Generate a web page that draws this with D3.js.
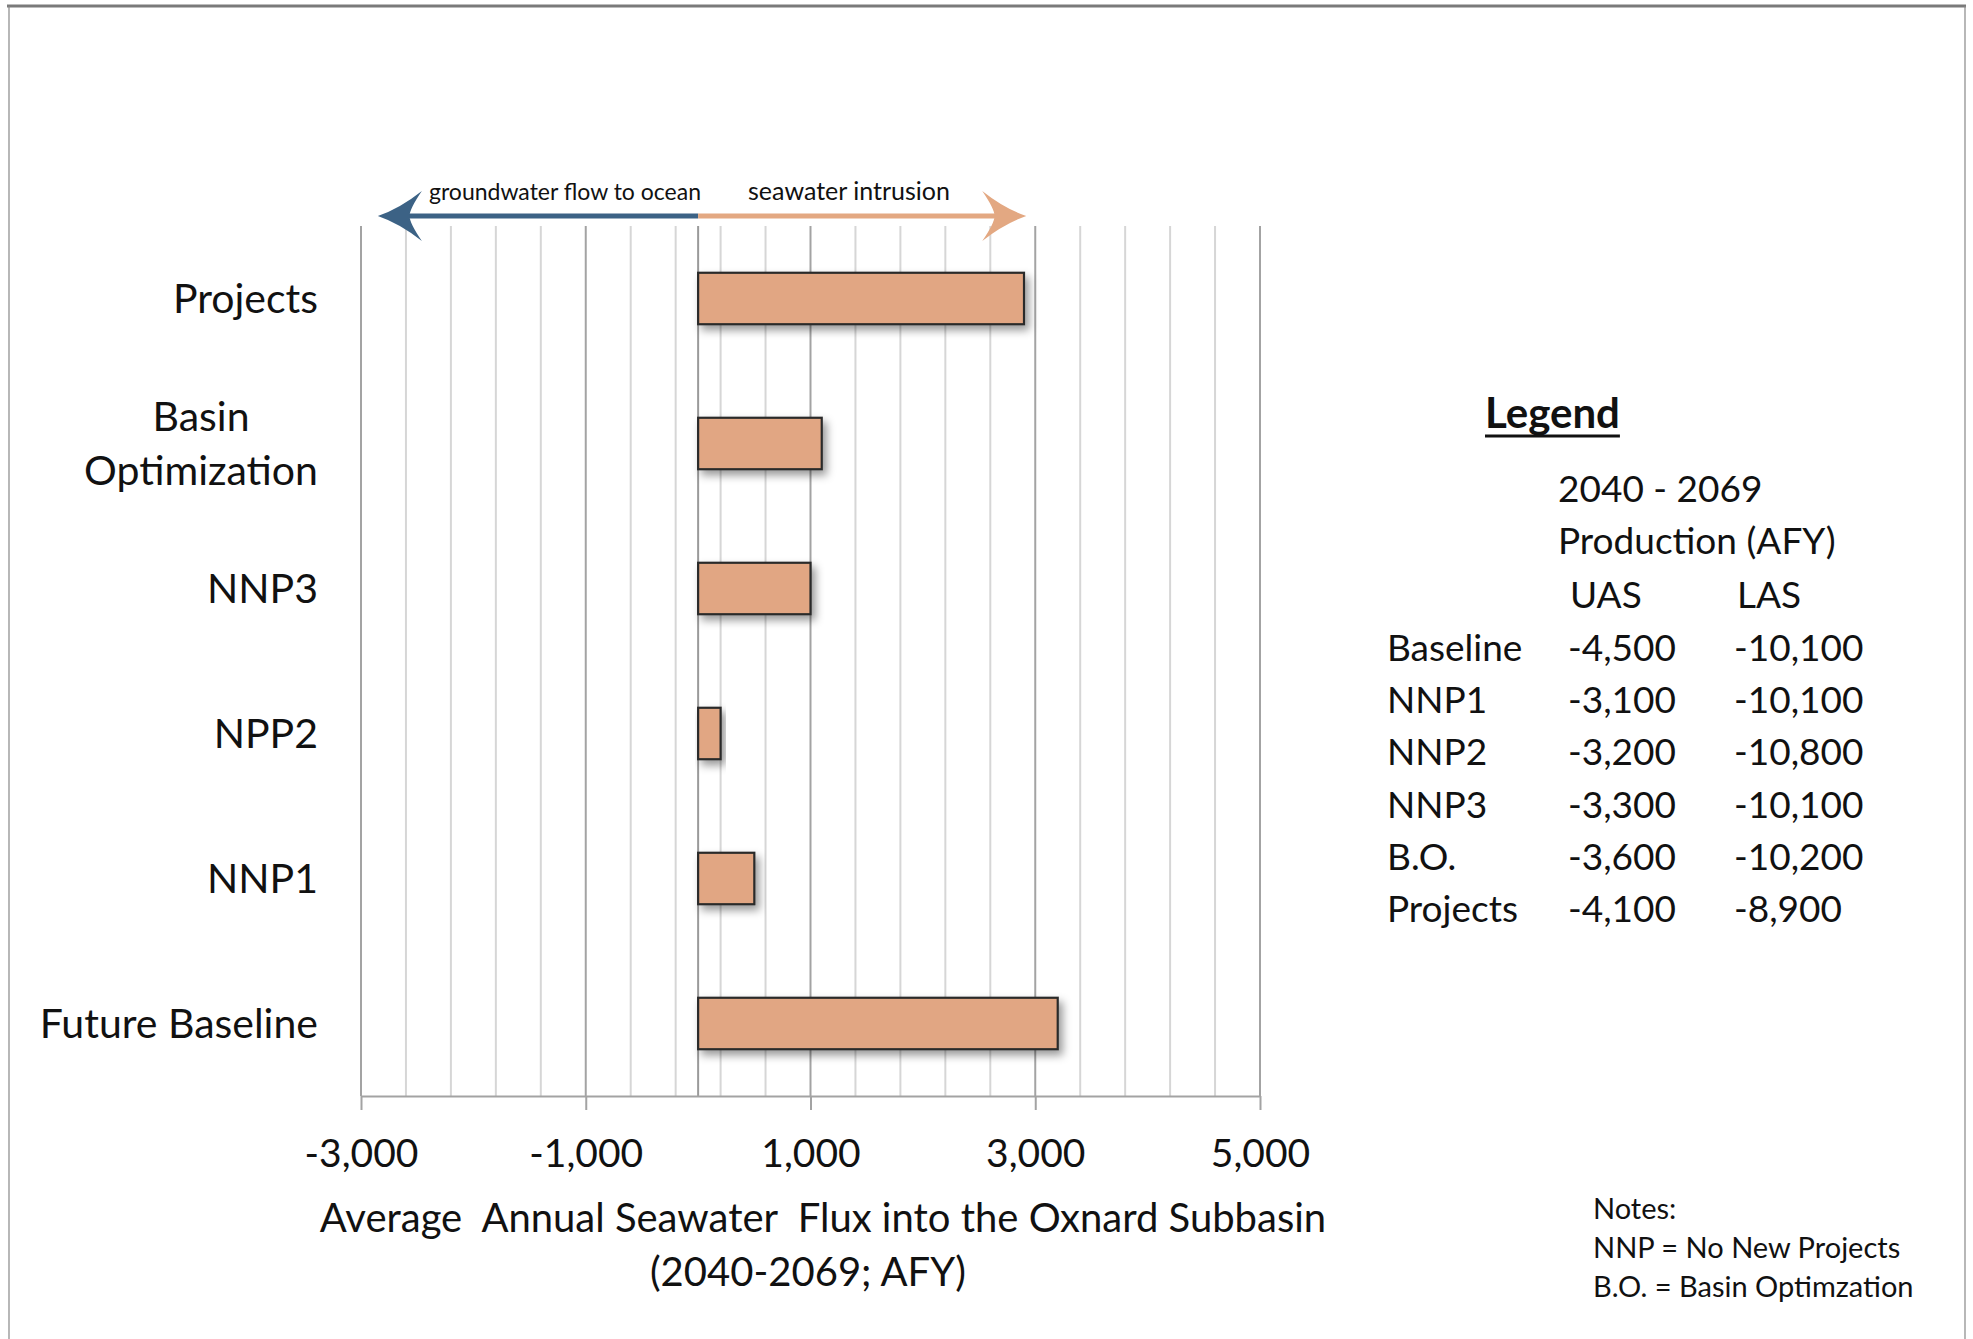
<!DOCTYPE html>
<html>
<head>
<meta charset="utf-8">
<script src="https://cdn.jsdelivr.net/npm/d3@7/dist/d3.min.js"></script>
<style>
  html, body { margin: 0; padding: 0; background: #fff; }
  svg { display: block; }
</style>
</head>
<body>
<script>
// ---------- data ----------
const categories = ["Projects", "Basin Optimization", "NNP3", "NPP2", "NNP1", "Future Baseline"];
const fluxValues = [2900, 1100, 1000, 200, 500, 3200];
const xTickValues = [-3000, -1000, 1000, 3000, 5000];
const xDomain = [-3000, 5000];

const legendRows = ["Baseline", "NNP1", "NNP2", "NNP3", "B.O.", "Projects"];
const uasValues = [-4500, -3100, -3200, -3300, -3600, -4100];
const lasValues = [-10100, -10100, -10800, -10100, -10200, -8900];
const notesLines = ["Notes:", "NNP = No New Projects", "B.O. = Basin Optimzation"];
const arrowLabels = ["groundwater flow to ocean", "seawater intrusion"];
const arrowExtent = [-2850, 2920];

// ---------- setup ----------
const W = 1973, H = 1339;
const svg = d3.select("body").append("svg").attr("width", W).attr("height", H);
svg.append("rect").attr("width", W).attr("height", H).attr("fill", "#fff");

const defs = svg.append("defs");
const f = defs.append("filter").attr("id", "shadow").attr("x", "-10%").attr("y", "-30%").attr("width", "130%").attr("height", "180%");
f.append("feDropShadow").attr("dx", 4).attr("dy", 5).attr("stdDeviation", 4)
  .attr("flood-color", "#000").attr("flood-opacity", 0.4);

const locale = d3.formatLocale({decimal: ".", thousands: ",", grouping: [3], currency: ["$", ""], minus: "-"});
const fmt = locale.format(",");

const FONT = "Lato, 'Open Sans', sans-serif";

// frame
svg.append("line").attr("x1", 7).attr("x2", 1966).attr("y1", 6).attr("y2", 6).attr("stroke", "#7a7a7a").attr("stroke-width", 3);
svg.append("line").attr("x1", 9).attr("x2", 9).attr("y1", 6).attr("y2", H).attr("stroke", "#888").attr("stroke-width", 1.2);
svg.append("line").attr("x1", 1965).attr("x2", 1965).attr("y1", 6).attr("y2", H).attr("stroke", "#888").attr("stroke-width", 1.2);

// scales
const plotTop = 226, plotBottom = 1096;
const x = d3.scaleLinear().domain(xDomain).range([361, 1260]);
const y = d3.scaleBand().domain(categories).range([plotTop, plotBottom]).paddingInner(0.645).paddingOuter(0.3225);

// gridlines
const minorTicks = d3.range(xDomain[0], xDomain[1] + 1, 400);
svg.append("g").selectAll("line").data(minorTicks).join("line")
  .attr("x1", d => x(d)).attr("x2", d => x(d)).attr("y1", plotTop).attr("y2", plotBottom)
  .attr("stroke", d => xTickValues.includes(d) ? "#a3a3a3" : "#d6d6d6").attr("stroke-width", 2);
// zero axis
svg.append("line").attr("x1", x(0)).attr("x2", x(0)).attr("y1", plotTop).attr("y2", plotBottom)
  .attr("stroke", "#9a9a9a").attr("stroke-width", 2);

// bottom axis
const xAxis = d3.axisBottom(x).tickValues(xTickValues).tickFormat(fmt).tickSize(14).tickSizeOuter(0).tickPadding(29);
const gx = svg.append("g").attr("transform", `translate(0,${plotBottom})`).call(xAxis);
gx.select(".domain").attr("stroke", "#a3a3a3").attr("stroke-width", 2);
gx.selectAll(".tick line").attr("stroke", "#a3a3a3").attr("stroke-width", 2);
gx.selectAll(".tick text").attr("font-family", FONT).attr("font-size", 39).attr("fill", "#111");

// left axis labels
const yAxis = d3.axisLeft(y).tickSize(0).tickPadding(43);
const gy = svg.append("g").attr("transform", `translate(${x(xDomain[0])},0)`).call(yAxis);
gy.select(".domain").remove();
gy.selectAll(".tick text").attr("font-family", FONT).attr("font-size", 41).attr("fill", "#111")
  .each(function(d) {
    const t = d3.select(this);
    if (d === "Basin Optimization") {
      const words = d.split(" ");
      t.text(null);
      const tmp = t.append("tspan").text(words[1]);
      const w = tmp.node().getComputedTextLength();
      tmp.remove();
      const cx = -43 - w / 2;
      t.attr("text-anchor", "middle").attr("dy", null);
      t.append("tspan").attr("x", cx).attr("y", -27).attr("dy", "0.35em").text(words[0]);
      t.append("tspan").attr("x", cx).attr("y", 27).attr("dy", "0.35em").text(words[1]);
    } else {
      t.attr("dy", "0.35em");
    }
  });

// bars
svg.append("g").selectAll("rect").data(categories).join("rect")
  .attr("x", x(0))
  .attr("y", d => y(d))
  .attr("width", (d, i) => x(fluxValues[i]) - x(0))
  .attr("height", y.bandwidth())
  .attr("fill", "#e1a683")
  .attr("stroke", "#2a2a2a").attr("stroke-width", 2.2)
  .attr("filter", "url(#shadow)");

// direction arrow
const ay = 216;
const arrowHead = (tipX, dir, color) => {
  const L = 44, Hh = 25;
  const p = d3.path();
  p.moveTo(tipX, ay);
  p.quadraticCurveTo(tipX - dir * L * 0.5, ay - Hh * 0.3, tipX - dir * L, ay - Hh);
  p.quadraticCurveTo(tipX - dir * L * 0.72, ay - 7, tipX - dir * L * 0.72, ay);
  p.quadraticCurveTo(tipX - dir * L * 0.72, ay + 7, tipX - dir * L, ay + Hh);
  p.quadraticCurveTo(tipX - dir * L * 0.5, ay + Hh * 0.3, tipX, ay);
  p.closePath();
  svg.append("path").attr("d", p.toString()).attr("fill", color);
};
svg.append("line").attr("x1", x(arrowExtent[0]) + 20).attr("x2", x(0)).attr("y1", ay).attr("y2", ay)
  .attr("stroke", "#3c6285").attr("stroke-width", 5);
svg.append("line").attr("x1", x(0)).attr("x2", x(arrowExtent[1]) - 20).attr("y1", ay).attr("y2", ay)
  .attr("stroke", "#e3a882").attr("stroke-width", 5);
arrowHead(x(arrowExtent[0]), -1, "#3c6285");
arrowHead(x(arrowExtent[1]), 1, "#e3a882");
svg.append("text").attr("x", 565).attr("y", 200).attr("text-anchor", "middle")
  .attr("font-family", FONT).attr("font-size", 23).attr("fill", "#111").text(arrowLabels[0]);
svg.append("text").attr("x", 849).attr("y", 200).attr("text-anchor", "middle")
  .attr("font-family", FONT).attr("font-size", 25).attr("fill", "#111").text(arrowLabels[1]);

// x axis title
svg.append("text").attr("x", 823).attr("y", 1232).attr("text-anchor", "middle")
  .attr("font-family", FONT).attr("font-size", 40).attr("fill", "#111")
  .attr("style", "white-space:pre")
  .text("Average  Annual Seawater  Flux into the Oxnard Subbasin");
svg.append("text").attr("x", 808).attr("y", 1286).attr("text-anchor", "middle")
  .attr("font-family", FONT).attr("font-size", 40).attr("fill", "#111")
  .text("(2040-2069; AFY)");

// legend table
const lg = svg.append("g").attr("font-family", FONT).attr("fill", "#111");
const lt = lg.append("text").attr("x", 1485).attr("y", 428).attr("font-size", 42).attr("font-weight", "bold").text("Legend");
const ltw = lt.node().getComputedTextLength();
lg.append("line").attr("x1", 1485).attr("x2", 1485 + ltw).attr("y1", 436).attr("y2", 436).attr("stroke", "#111").attr("stroke-width", 3);
lg.append("text").attr("x", 1558).attr("y", 502).attr("font-size", 37).text("2040 - 2069");
lg.append("text").attr("x", 1558).attr("y", 554).attr("font-size", 37).text("Production (AFY)");
lg.append("text").attr("x", 1570).attr("y", 608).attr("font-size", 37).text("UAS");
lg.append("text").attr("x", 1737).attr("y", 608).attr("font-size", 37).text("LAS");
const rowY = d3.scalePoint().domain(legendRows).range([661, 922]);
legendRows.forEach((r, i) => {
  lg.append("text").attr("x", 1387).attr("y", rowY(r)).attr("font-size", 37).text(r);
  lg.append("text").attr("x", 1568).attr("y", rowY(r)).attr("font-size", 37).text(fmt(uasValues[i]));
  lg.append("text").attr("x", 1734).attr("y", rowY(r)).attr("font-size", 37).text(fmt(lasValues[i]));
});

// notes
notesLines.forEach((n, i) => {
  svg.append("text").attr("x", 1593).attr("y", 1219 + i * 39).attr("font-family", FONT)
    .attr("font-size", 29).attr("fill", "#111").text(n);
});
</script>
</body>
</html>
